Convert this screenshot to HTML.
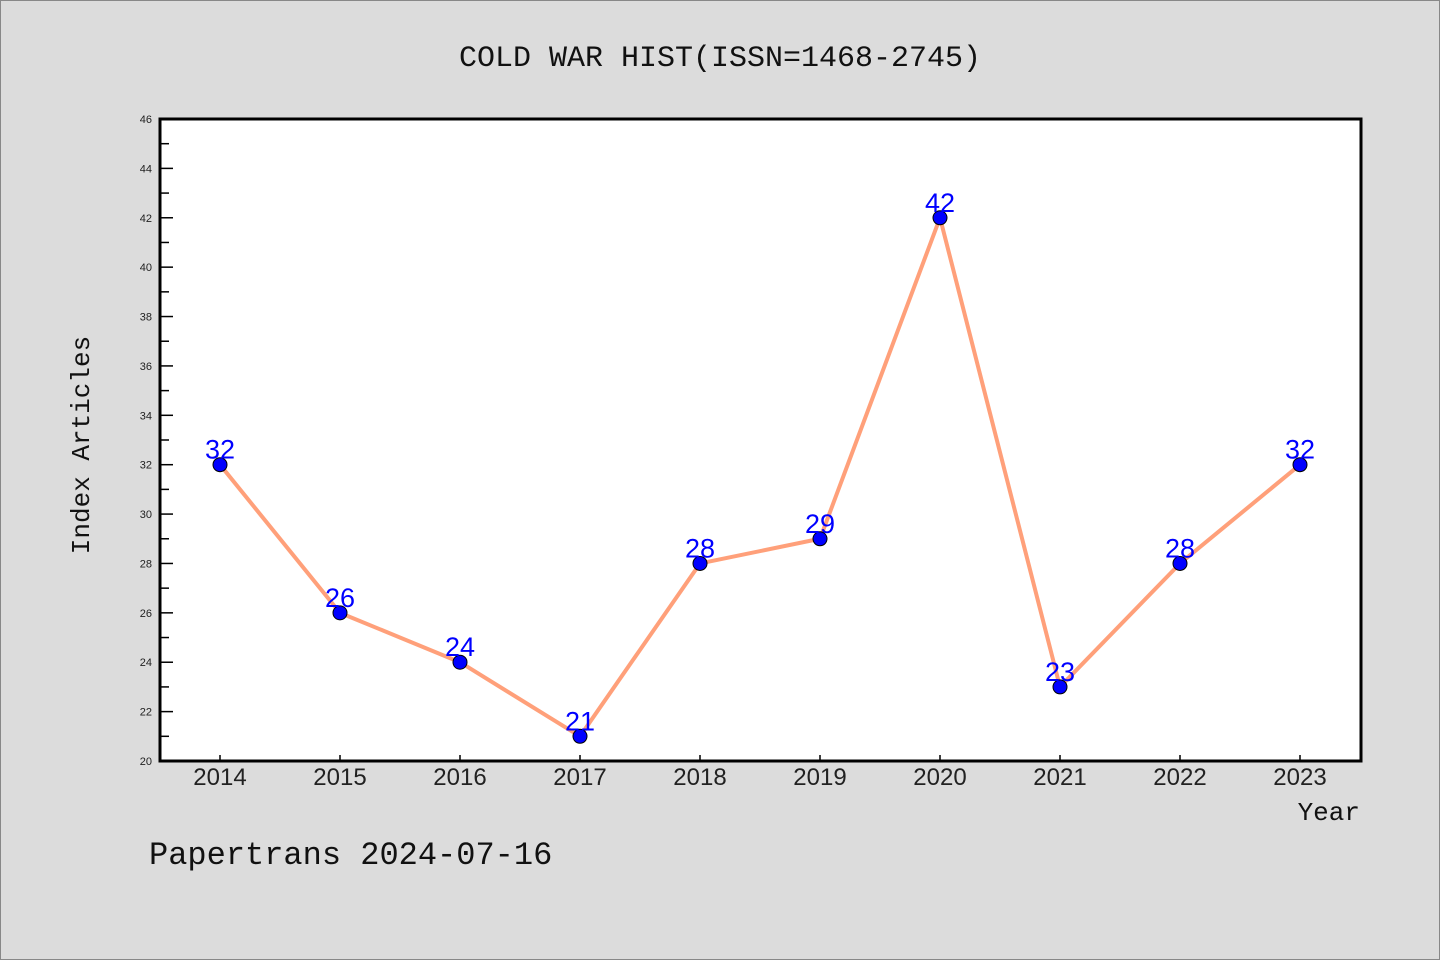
<!DOCTYPE html>
<html><head><meta charset="utf-8"><style>
html,body{margin:0;padding:0;background:#dcdcdc;}
svg{display:block;font-family:"Liberation Mono","DejaVu Sans Mono",monospace;}
</style></head><body>
<svg id="chart" width="1440" height="960" viewBox="0 0 1440 960">
<rect x="0.5" y="0.5" width="1439" height="959" fill="#dcdcdc" stroke="#888"/>
<text x="720" y="66" text-anchor="middle" font-size="30" fill="#111">COLD WAR HIST(ISSN=1468-2745)</text>
<rect x="160" y="119" width="1201" height="642" fill="#fff"/>
<g id="yaxis"></g>
<g id="xaxis"></g>
<g id="series"></g>
<rect x="160" y="119" width="1201" height="642" fill="none" stroke="#000" stroke-width="3"/>
<text transform="translate(89,445) rotate(-90)" text-anchor="middle" font-size="26" fill="#111">Index Articles</text>
<text x="1360" y="820" text-anchor="end" font-size="26" fill="#111">Year</text>
<text x="149" y="864" font-size="32" fill="#111">Papertrans 2024-07-16</text>
</svg>
<script>
const years = ["2014","2015","2016","2017","2018","2019","2020","2021","2022","2023"];
const values = [32,26,24,21,28,29,42,23,28,32];
const yTicks = [20,22,24,26,28,30,32,34,36,38,40,42,44,46];
const NS="http://www.w3.org/2000/svg";
const L=160,R=1361,T=119,B=761,yMin=20,yMax=46;
function xs(i){return 220+i*(1300-220)/(years.length-1);}
function ys(v){return B-(v-yMin)/(yMax-yMin)*(B-T);}
function mk(tag,attrs,parent){const e=document.createElementNS(NS,tag);for(const k in attrs)e.setAttribute(k,attrs[k]);parent.appendChild(e);return e;}
const ya=document.getElementById('yaxis'),xa=document.getElementById('xaxis'),sg=document.getElementById('series');
yTicks.forEach((v,i)=>{
  const y=ys(v);
  const t=mk('line',{x1:L,x2:L+13,y1:y,y2:y,stroke:'#000','stroke-width':1.5},ya);
  
  
  const lb=mk('text',{x:152,y:y+4,'text-anchor':'end','font-size':11,fill:'#222','font-family':'Liberation Sans, sans-serif'},ya);
  lb.textContent=v;
  
  
  if(i<yTicks.length-1){
    const ym=ys(v+1);
    const m=mk('line',{x1:L,x2:L+9,y1:ym,y2:ym,stroke:'#000','stroke-width':1.5},ya);
    
    
  }
});
years.forEach((yr,i)=>{
  const x=xs(i);
  const t=mk('line',{x1:x,x2:x,y1:B,y2:B-6,stroke:'#000','stroke-width':1.5},xa);
  
  
  const lb=mk('text',{x:x,y:785,'text-anchor':'middle','font-size':24,fill:'#222','font-family':'Liberation Sans, sans-serif'},xa);
  lb.textContent=yr;
  
  
});
const pl=mk('polyline',{points:values.map((v,i)=>xs(i)+','+ys(v)).join(' '),fill:'none',stroke:'#ffa07a','stroke-width':4,'stroke-linejoin':'round'},sg);


values.forEach((v,i)=>{
  const c=mk('circle',{cx:xs(i),cy:ys(v),r:7,fill:'#0000ff',stroke:'#000','stroke-width':1},sg);
  
  
  const lb=mk('text',{x:xs(i),y:ys(v)-6,'text-anchor':'middle','font-size':27,fill:'#0000ff','font-family':'Liberation Sans, sans-serif'},sg);
  lb.textContent=v;
  
  
});
</script>
</body></html>
